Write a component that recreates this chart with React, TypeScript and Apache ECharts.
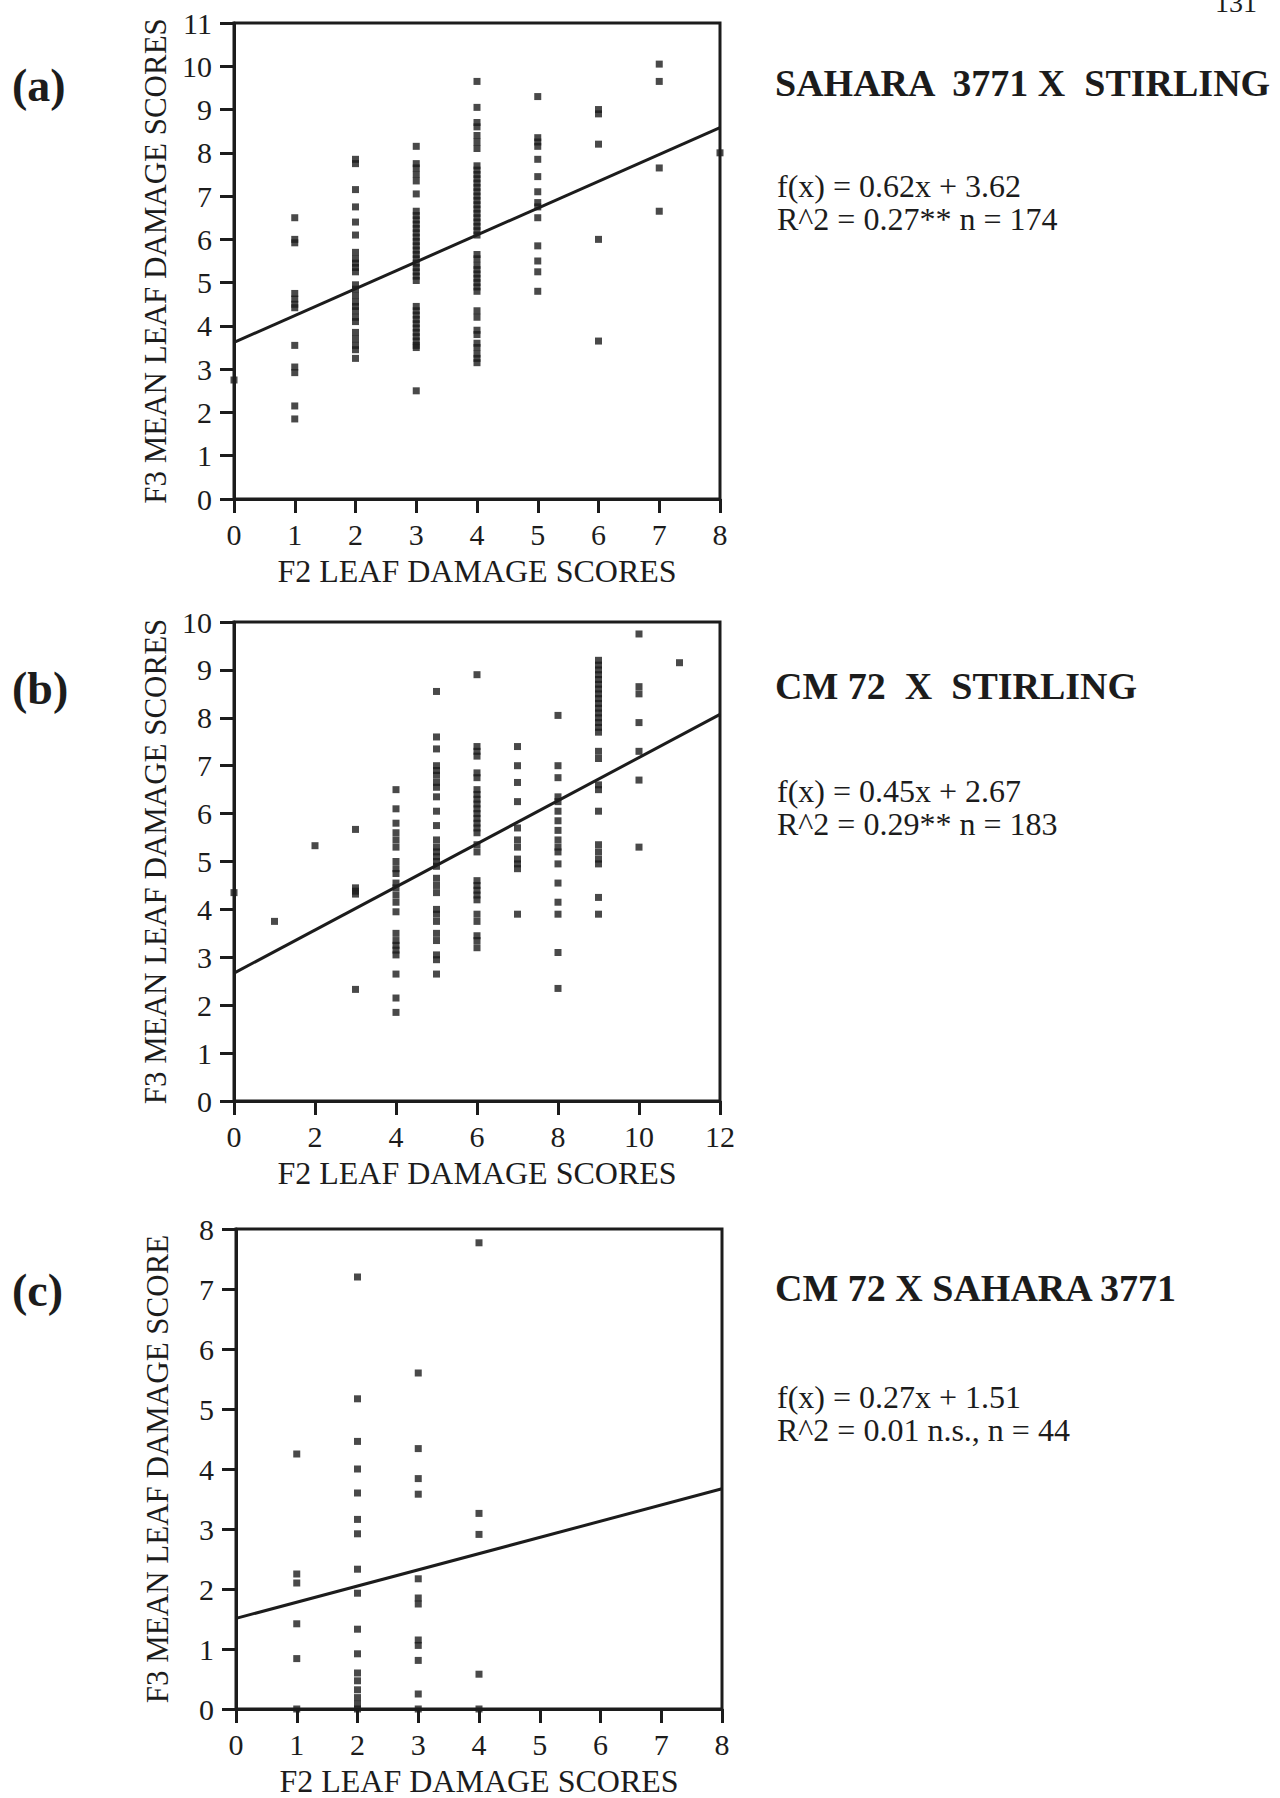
import React, { useEffect, useRef } from "react";
import * as echarts from "echarts";

const FONT = '"Liberation Serif", "Times New Roman", Times, serif';
const INK = "#1c1c1c";

// ---------- Panel (a): SAHARA 3771 X STIRLING ----------
const aX = [0, 1, 2, 3, 4, 5, 6, 7, 8];
const a0 = [2.75];
const a1 = [6.5, 6.0, 5.92, 4.75, 4.62, 4.5, 4.42, 3.55, 3.05, 2.92, 2.15, 1.85];
const a2 = [7.85, 7.75, 7.15, 6.75, 6.4, 6.1, 5.7, 5.55, 5.45, 5.35, 5.25, 4.95, 4.85, 4.7, 4.55, 4.45, 4.35, 4.2, 4.1, 3.85, 3.7, 3.55, 3.45, 3.25];
const a3 = [8.15, 7.75, 7.65, 7.5, 7.35, 7.05, 6.65, 6.55, 6.45, 6.35, 6.25, 6.15, 6.05, 5.95, 5.85, 5.75, 5.65, 5.55, 5.45, 5.35, 5.25, 5.15, 5.05, 4.45, 4.35, 4.25, 4.15, 4.05, 3.95, 3.85, 3.75, 3.65, 3.55, 3.5, 2.5];
const a4 = [9.65, 9.05, 8.7, 8.6, 8.4, 8.25, 8.1, 7.7, 7.6, 7.5, 7.4, 7.3, 7.2, 7.1, 7.0, 6.9, 6.8, 6.7, 6.6, 6.5, 6.4, 6.3, 6.2, 6.1, 5.65, 5.55, 5.4, 5.3, 5.2, 5.1, 5.0, 4.9, 4.8, 4.35, 4.2, 3.9, 3.8, 3.6, 3.5, 3.35, 3.25, 3.15];
const a5 = [9.3, 8.35, 8.25, 8.15, 7.85, 7.45, 7.1, 6.85, 6.75, 6.5, 5.85, 5.5, 5.25, 4.8];
const a6 = [9.0, 8.9, 8.2, 6.0, 3.65];
const a7 = [10.05, 9.65, 7.65, 6.65];
const a8 = [8.0];
const aCols = [a0, a1, a2, a3, a4, a5, a6, a7, a8];
const aFit = [[0, 3.62], [8, 8.58]];

// ---------- Panel (b): CM 72 X STIRLING ----------
const bX = [0, 1, 2, 3, 4, 5, 6, 7, 8, 9, 10, 11];
const b0 = [4.35];
const b1 = [3.75];
const b2 = [5.33];
const b3 = [5.67, 4.45, 4.38, 4.32, 2.33];
const b4 = [6.5, 6.1, 5.8, 5.6, 5.45, 5.3, 5.0, 4.85, 4.75, 4.55, 4.45, 4.3, 4.15, 3.95, 3.5, 3.35, 3.25, 3.15, 3.05, 2.65, 2.15, 1.85];
const b5 = [8.55, 7.6, 7.35, 7.0, 6.9, 6.8, 6.65, 6.55, 6.35, 6.05, 5.75, 5.45, 5.3, 5.2, 5.1, 5.0, 4.9, 4.65, 4.5, 4.35, 4.0, 3.9, 3.75, 3.5, 3.35, 3.05, 2.95, 2.65];
const b6 = [8.9, 7.4, 7.3, 7.2, 6.85, 6.75, 6.5, 6.4, 6.3, 6.2, 6.1, 6.0, 5.9, 5.8, 5.7, 5.6, 5.35, 5.2, 4.6, 4.5, 4.4, 4.3, 4.2, 3.9, 3.75, 3.45, 3.35, 3.2];
const b7 = [7.4, 7.0, 6.65, 6.25, 5.7, 5.45, 5.3, 5.05, 4.95, 4.85, 3.9];
const b8 = [8.05, 7.0, 6.75, 6.35, 6.25, 6.05, 5.85, 5.65, 5.45, 5.3, 5.2, 4.95, 4.55, 4.15, 3.9, 3.1, 2.35];
const b9 = [9.2, 9.1, 9.0, 8.9, 8.8, 8.7, 8.6, 8.5, 8.4, 8.3, 8.2, 8.1, 8.0, 7.9, 7.8, 7.7, 7.3, 7.15, 6.6, 6.5, 6.05, 5.35, 5.2, 5.05, 4.95, 4.25, 3.9];
const b10 = [9.75, 8.65, 8.5, 7.9, 7.3, 6.7, 5.3];
const b11 = [9.15];
const bCols = [b0, b1, b2, b3, b4, b5, b6, b7, b8, b9, b10, b11];
const bFit = [[0, 2.67], [12, 8.07]];

// ---------- Panel (c): CM 72 X SAHARA 3771 ----------
const cX = [1, 2, 3, 4];
const c1 = [4.25, 2.25, 2.1, 1.42, 0.84, 0];
const c2 = [7.2, 5.17, 4.46, 4.0, 3.6, 3.16, 2.92, 2.33, 1.93, 1.33, 0.92, 0.6, 0.47, 0.32, 0.19, 0.08, 0];
const c3 = [5.6, 4.34, 3.84, 3.58, 2.17, 1.85, 1.75, 1.15, 1.06, 0.81, 0.25, 0];
const c4 = [7.77, 3.26, 2.91, 0.58, 0];
const cCols = [c1, c2, c3, c4];
const cFit = [[0, 1.51], [8, 3.67]];

// ---------- Texts ----------
const panelLabels = ["(a)", "(b)", "(c)"];
const panelTitles = ["SAHARA  3771 X  STIRLING", "CM 72  X  STIRLING", "CM 72 X SAHARA 3771"];
const eqLine1 = ["f(x) = 0.62x + 3.62", "f(x) = 0.45x + 2.67", "f(x) = 0.27x + 1.51"];
const eqLine2 = ["R^2 = 0.27** n = 174", "R^2 = 0.29** n = 183", "R^2 = 0.01 n.s., n = 44"];
const xTitle = "F2 LEAF DAMAGE SCORES";
const yTitles = ["F3 MEAN LEAF DAMAGE SCORES", "F3 MEAN LEAF DAMAGE SCORES", "F3 MEAN LEAF DAMAGE SCORE"];
const xMax = [8, 12, 8];
const xStep = [1, 2, 1];
const yMax = [11, 10, 8];

function buildPoints(xs: number[], cols: number[][]) {
  const out: number[][] = [];
  xs.forEach((x, i) => cols[i].forEach((y) => out.push([x, y])));
  return out;
}

export default function App() {
  const ref = useRef<HTMLDivElement>(null);
  useEffect(() => {
    if (!ref.current) return;
    const chart = echarts.init(ref.current, undefined, { renderer: "svg" });

    const grids = [
      { left: 234, top: 23, width: 486, height: 476 },
      { left: 234, top: 622, width: 486, height: 479 },
      { left: 236, top: 1229, width: 486, height: 481 },
    ];

    const axisLineStyle = { color: INK, width: 3 };
    const labelStyle = { fontFamily: FONT, fontSize: 30, color: INK };

    const xAxis = grids.map((_, i) => ({
      gridIndex: i,
      type: "value",
      min: 0,
      max: xMax[i],
      interval: xStep[i],
      axisLine: { show: true, onZero: false, lineStyle: axisLineStyle },
      axisTick: { show: true, inside: false, length: 14, lineStyle: axisLineStyle },
      axisLabel: { ...labelStyle, margin: 20 },
      splitLine: { show: false },
      name: xTitle,
      nameLocation: "middle",
      nameGap: 56,
      nameTextStyle: { fontFamily: FONT, fontSize: 32, color: INK },
    }));

    const yAxis = grids.map((_, i) => ({
      gridIndex: i,
      type: "value",
      min: 0,
      max: yMax[i],
      interval: 1,
      axisLine: { show: true, onZero: false, lineStyle: axisLineStyle },
      axisTick: { show: true, inside: false, length: 14, lineStyle: axisLineStyle },
      axisLabel: { ...labelStyle, margin: 22 },
      splitLine: { show: false },
      name: yTitles[i],
      nameLocation: "middle",
      nameGap: 63,
      nameTextStyle: { fontFamily: FONT, fontSize: 31, color: INK },
    }));

    const pointSets = [
      buildPoints(aX, aCols),
      buildPoints(bX, bCols),
      buildPoints(cX, cCols),
    ];
    const fits = [aFit, bFit, cFit];

    const series: any[] = [];
    pointSets.forEach((pts, i) => {
      series.push({
        type: "scatter",
        xAxisIndex: i,
        yAxisIndex: i,
        data: pts,
        symbol: "rect",
        symbolSize: 7,
        clip: false,
        itemStyle: { color: INK },
      });
      series.push({
        type: "line",
        xAxisIndex: i,
        yAxisIndex: i,
        data: fits[i],
        symbol: "none",
        lineStyle: { color: INK, width: 3 },
      });
    });

    const labelY = [85, 688, 1290];
    const eqY = [186, 791, 1397];

    const graphic: any[] = [];
    panelLabels.forEach((t, i) => {
      graphic.push({
        type: "text",
        x: 12,
        y: labelY[i],
        style: { text: t, fontFamily: FONT, fontSize: 46, fontWeight: "bold", fill: INK, align: "left", verticalAlign: "middle" },
      });
      graphic.push({
        type: "text",
        x: 775,
        y: labelY[i] - 2,
        style: { text: panelTitles[i], fontFamily: FONT, fontSize: 38, fontWeight: "bold", fill: INK, align: "left", verticalAlign: "middle" },
      });
      graphic.push({
        type: "text",
        x: 777,
        y: eqY[i],
        style: { text: eqLine1[i], fontFamily: FONT, fontSize: 32, fill: INK, align: "left", verticalAlign: "middle" },
      });
      graphic.push({
        type: "text",
        x: 777,
        y: eqY[i] + 33,
        style: { text: eqLine2[i], fontFamily: FONT, fontSize: 32, fill: INK, align: "left", verticalAlign: "middle" },
      });
    });
    graphic.push({
      type: "text",
      x: 1236,
      y: 2,
      style: { text: "131", fontFamily: FONT, fontSize: 28, fill: INK, align: "center", verticalAlign: "middle" },
    });

    chart.setOption({
      animation: false,
      backgroundColor: "#ffffff",
      grid: grids.map((g) => ({ ...g, show: true, borderColor: INK, borderWidth: 3, backgroundColor: "transparent" })),
      xAxis,
      yAxis,
      series,
      graphic,
    });

    return () => chart.dispose();
  }, []);

  return (
    <div
      ref={ref}
      style={{ position: "absolute", left: 0, top: 0, width: 1280, height: 1798, background: "#fff" }}
    />
  );
}
